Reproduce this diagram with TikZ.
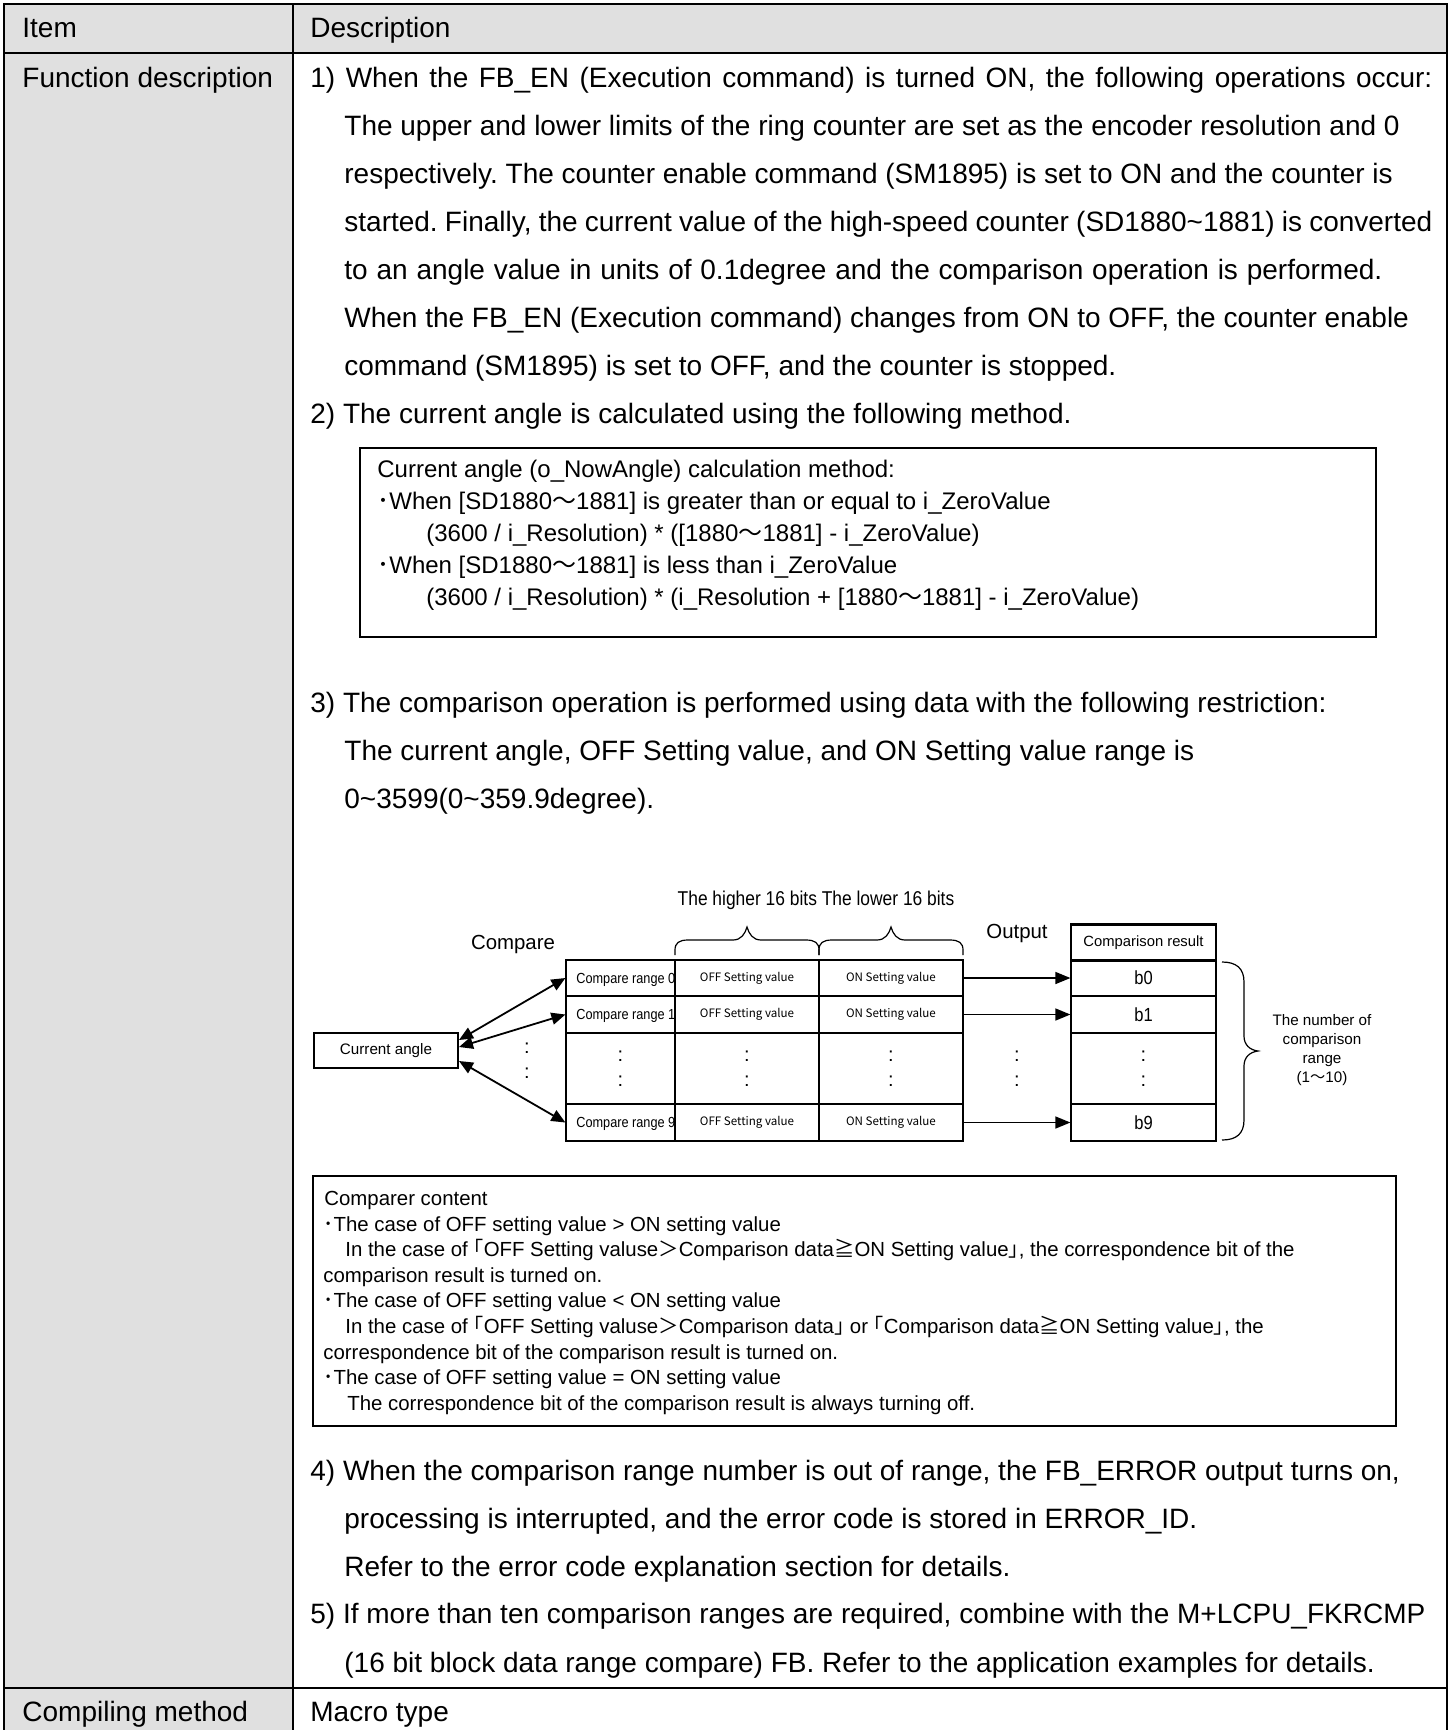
\documentclass[tikz,border=0pt]{standalone}
\usepackage{fontspec}
\setmainfont{Liberation Sans}
\newfontfamily\narfont[FakeStretch=0.87]{Liberation Sans}
\newfontfamily\cjkfont{Noto Sans CJK JP}
\usetikzlibrary{arrows.meta,calc}
\newcommand\setfs[1]{\fontsize{#1pt}{#1pt}\selectfont}
\newcommand\wt{{\cjkfont ～}}
\newcommand\md{{\cjkfont ･}}
\newcommand\tl{\textasciitilde}
\newcommand\lbr{{\cjkfont ｢}}
\newcommand\rbr{{\cjkfont ｣}}
\definecolor{cellgray}{RGB}{224,224,224}
\frenchspacing
\begin{document}
\begin{tikzpicture}[x=0.5pt,y=-0.5pt,
  main/.style={anchor=base west,inner sep=0,font=\setfs{14}},
  calcline/.style={anchor=base west,inner sep=0,font=\setfs{12}},
  cmpline/.style={anchor=base west,inner sep=0,font=\setfs{10.2}},
  cell/.style args={#1/#2}{draw,line width=0.6pt,inner sep=0,minimum width=#1,minimum height=#2},
  rangetxt/.style={anchor=base west,inner sep=0,font=\narfont\setfs{7.3}},
  settxt/.style={inner sep=0,font=\cjkfont\setfs{5.8}},
  bittxt/.style={inner sep=0,font=\narfont\setfs{9.5}},
  dots/.style={inner sep=0,font=\setfs{10}},
  dbl/.style={{Triangle[length=7pt,width=6pt]}-{Triangle[length=7pt,width=6pt]},line width=0.9pt},
  outarr/.style={-{Triangle[length=7.5pt,width=6pt]},line width=0.7pt},
  bracepath/.style={line width=0.6pt},
  thick border/.style={line width=1.2pt},
  thin border/.style={line width=0.9pt}]
\useasboundingbox (0,0) rectangle (1454,1730);
% table background and grid
\fill[cellgray] (4,4) rectangle (1447,53);
\fill[cellgray] (4,53) rectangle (293,1730);
\draw[thin border] (4,53) -- (1447,53);
\draw[thin border] (293,4) -- (293,1730);
\draw[thin border] (4,1688) -- (1447,1688);
\draw[thick border] (4,1730) -- (4,4) -- (1447,4) -- (1447,1730);
% header
\node[main] (hitem) at (22,37) {Item};
\node[main] (hdesc) at (310,37) {Description};
\node[main] (fdesc) at (22,87) {Function description};
\node[main] (cmeth) at (22,1721) {Compiling method};
\node[main] (macro) at (310,1721) {Macro type};
% item 1 and 2
\node[main] (l1) at (310,87) {\makebox[561pt][s]{1) When the FB\_EN (Execution command) is turned ON, the following operations occur:}};
\node[main] (l2) at (344,135.1) {The upper and lower limits of the ring counter are set as the encoder resolution and 0};
\node[main] (l3) at (344,183.2) {respectively. The counter enable command (SM1895) is set to ON and the counter is};
\node[main] (l4) at (344,231.3) {\makebox[544pt][s]{started. Finally, the current value of the high-speed counter (SD1880\tl1881) is converted}};
\node[main] (l5) at (344,279.4) {\makebox[519pt][s]{to an angle value in units of 0.1degree and the comparison operation is performed.}};
\node[main] (l6) at (344,327.5) {When the FB\_EN (Execution command) changes from ON to OFF, the counter enable};
\node[main] (l7) at (344,375.6) {command (SM1895) is set to OFF, and the counter is stopped.};
\node[main] (l8) at (310,423.7) {2) The current angle is calculated using the following method.};
% calculation box
\node[draw,line width=1.1pt,inner sep=0,minimum width=508pt,minimum height=94.5pt] (calcbox) at (868,542.5) {};
\node[calcline] (c1) at (377,477) {Current angle (o\_NowAngle) calculation method:};
\node[calcline] (c2) at (377,509) {\md When [SD1880\wt1881] is greater than or equal to i\_ZeroValue};
\node[calcline] (c3) at (426,541) {(3600 / i\_Resolution) * ([1880\wt1881] - i\_ZeroValue)};
\node[calcline] (c4) at (377,573) {\md When [SD1880\wt1881] is less than i\_ZeroValue};
\node[calcline] (c5) at (426,605) {(3600 / i\_Resolution) * (i\_Resolution + [1880\wt1881] - i\_ZeroValue)};
% item 3
\node[main] (m1) at (310,712) {3) The comparison operation is performed using data with the following restriction:};
\node[main] (m2) at (344,760) {The current angle, OFF Setting value, and ON Setting value range is};
\node[main] (m3) at (344,808) {0\tl3599(0\tl359.9degree).};
% diagram
\node[anchor=base,inner sep=0,font=\narfont\setfs{10}] (bitslbl) at (816,905) {The higher 16 bits The lower 16 bits};
\node[anchor=base,inner sep=0,font=\setfs{10.2}] (cmplbl) at (513,949) {Compare};
\node[anchor=base,inner sep=0,font=\setfs{10.2}] (outlbl) at (1017,938) {Output};
\draw[bracepath] (675,955) -- (675,950) .. controls (675,943) and (679,940) .. (688,940) -- (733,940) .. controls (741,940) and (745,934) .. (747,927) .. controls (749,934) and (753,940) .. (761,940) -- (806,940) .. controls (815,940) and (819,943) .. (819,950) -- (819,955);
\draw[bracepath] (819,955) -- (819,950) .. controls (819,943) and (823,940) .. (832,940) -- (877,940) .. controls (885,940) and (889,934) .. (891,927) .. controls (893,934) and (897,940) .. (905,940) -- (950,940) .. controls (959,940) and (963,943) .. (963,950) -- (963,955);
% range table cells
\node[cell=54.5pt/18pt] (c0a) at (620.5,978) {};
\node[cell=72pt/18pt] (c0b) at (747,978) {};
\node[cell=72pt/18pt] (c0c) at (891,978) {};
\node[cell=54.5pt/18.5pt] (c1a) at (620.5,1014.5) {};
\node[cell=72pt/18.5pt] (c1b) at (747,1014.5) {};
\node[cell=72pt/18.5pt] (c1c) at (891,1014.5) {};
\node[cell=54.5pt/35.5pt] (cda) at (620.5,1068.5) {};
\node[cell=72pt/35.5pt] (cdb) at (747,1068.5) {};
\node[cell=72pt/35.5pt] (cdc) at (891,1068.5) {};
\node[cell=54.5pt/18.5pt] (c9a) at (620.5,1122.5) {};
\node[cell=72pt/18.5pt] (c9b) at (747,1122.5) {};
\node[cell=72pt/18.5pt] (c9c) at (891,1122.5) {};
\draw[thick border] (566,960) rectangle (963,1141);
\draw[line width=1.1pt] (566,996) -- (963,996) (566,1033) -- (963,1033) (566,1104) -- (963,1104);
\begin{scope}
\clip (566,960) rectangle (674.5,1141);
\node[rangetxt] (t0a) at (576,983) {Compare range 0};
\node[rangetxt] (t1a) at (576,1019.5) {Compare range 1};
\node[rangetxt] (t9a) at (576,1127.5) {Compare range 9};
\end{scope}
\node[settxt] (t0b) at (c0b) {OFF Setting value};
\node[settxt] (t0c) at (c0c) {ON Setting value};
\node[settxt] (t1b) at (c1b) {OFF Setting value};
\node[settxt] (t1c) at (c1c) {ON Setting value};
\node[settxt] (t9b) at (c9b) {OFF Setting value};
\node[settxt] (t9c) at (c9c) {ON Setting value};
% result column
\node[cell=72.5pt/18pt,font=\setfs{7.4}] (rh) at (1143.5,943) {Comparison result};
\node[cell=72.5pt/18pt] (rb0) at (1143.5,978) {};
\node[cell=72.5pt/18.5pt] (rb1) at (1143.5,1014.5) {};
\node[cell=72.5pt/35.5pt] (rbd) at (1143.5,1068.5) {};
\node[cell=72.5pt/18.5pt] (rb9) at (1143.5,1122.5) {};
\draw[thick border] (1071,924) rectangle (1216,1141);
\node[bittxt] at (rb0) {b0};
\node[bittxt] at (rb1) {b1};
\node[bittxt] at (rb9) {b9};
% dots
\foreach \xx in {620.5,747,891,1017,1143.5} {
  \node[dots] at (\xx,1056) {:};
  \node[dots] at (\xx,1081) {:};
}
\node[dots] at (527,1048) {:};
\node[dots] at (527,1073) {:};
% current angle
\node[draw,line width=0.7pt,inner sep=0,minimum width=72pt,minimum height=17.5pt,font=\setfs{7.6}] (cur) at (386,1050.5) {Current angle};
\coordinate (ca0) at (459,1040);
\coordinate (ca1) at (459,1047);
\coordinate (ca9) at (459,1061);
\draw[dbl] (ca0) -- (c0a.west);
\draw[dbl] (ca1) -- (c1a.west);
\draw[dbl] (ca9) -- (c9a.west);
\draw[outarr] (c0c.east) -- (rb0.west);
\draw[outarr] (c1c.east) -- (rb1.west);
\draw[outarr] (c9c.east) -- (rb9.west);
% right brace
\draw[bracepath] (1222,962) .. controls (1236,962) and (1244,968) .. (1244,982) -- (1244,1036) .. controls (1244,1045) and (1250,1050) .. (1258,1051) .. controls (1250,1052) and (1244,1057) .. (1244,1066) -- (1244,1120) .. controls (1244,1134) and (1236,1140) .. (1222,1140);
\node[align=center,inner sep=0,font=\fontsize{7.6pt}{9.35pt}\selectfont] (numlbl) at (1322,1050) {The number of\\comparison\\range\\(1\wt10)};
% comparer content box
\node[draw,line width=0.7pt,inner sep=0,minimum width=541.5pt,minimum height=125pt] (cmpbox) at (854.5,1301) {};
\node[cmpline] (k1) at (324,1205.5) {Comparer content};
\node[cmpline] (k2) at (323,1231.1) {\md The case of OFF setting value > ON setting value};
\node[cmpline] (k3) at (345,1256.7) {In the case of \lbr OFF Setting valuse{\cjkfont ＞}Comparison data{\cjkfont ≧}ON Setting value\rbr, the correspondence bit of the};
\node[cmpline] (k4) at (323,1282.3) {comparison result is turned on.};
\node[cmpline] (k5) at (323,1307.9) {\md The case of OFF setting value < ON setting value};
\node[cmpline] (k6) at (345,1333.5) {In the case of \lbr OFF Setting valuse{\cjkfont ＞}Comparison data\rbr\ or \lbr Comparison data{\cjkfont ≧}ON Setting value\rbr, the};
\node[cmpline] (k7) at (323,1359.1) {correspondence bit of the comparison result is turned on.};
\node[cmpline] (k8) at (323,1384.7) {\md The case of OFF setting value = ON setting value};
\node[cmpline] (k9) at (347,1410.3) {The correspondence bit of the comparison result is always turning off.};
% items 4 and 5
\node[main] (n1) at (310,1480) {4) When the comparison range number is out of range, the FB\_ERROR output turns on,};
\node[main] (n2) at (344,1528) {processing is interrupted, and the error code is stored in ERROR\_ID.};
\node[main] (n3) at (344,1576) {Refer to the error code explanation section for details.};
\node[main] (n4) at (310,1623) {5) If more than ten comparison ranges are required, combine with the M+LCPU\_FKRCMP};
\node[main] (n5) at (344,1672) {(16 bit block data range compare) FB. Refer to the application examples for details.};
\end{tikzpicture}
\end{document}
